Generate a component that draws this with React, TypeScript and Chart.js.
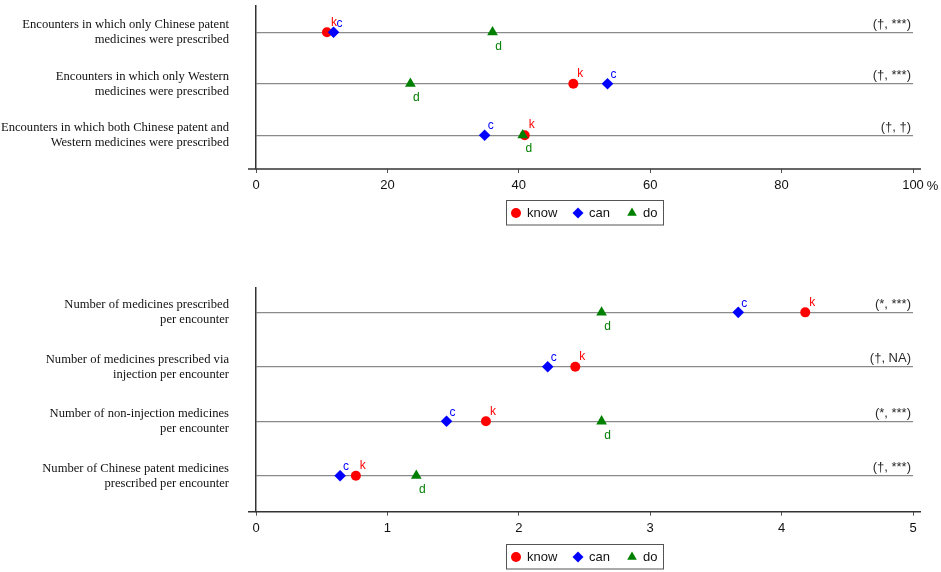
import { useEffect, useRef } from "react";
import { Chart, registerables } from "chart.js";

Chart.register(...registerables);

// top panel: share of encounters (%)
const topCategories = [
  ["Encounters in which only Chinese patent", "medicines were prescribed"],
  ["Encounters in which only Western", "medicines were prescribed"],
  ["Encounters in which both Chinese patent and", "Western medicines were prescribed"],
];
const topKnow = [10.8, 48.3, 40.9];
const topCan = [11.8, 53.5, 34.8];
const topDo = [36.0, 23.5, 40.6];
const topNotes = ["(†, ***)", "(†, ***)", "(†, †)"];
const topTicks = [0, 20, 40, 60, 80, 100];

// bottom panel: number of medicines per encounter
const bottomCategories = [
  ["Number of medicines prescribed", "per encounter"],
  ["Number of medicines prescribed via", "injection per encounter"],
  ["Number of non-injection medicines", "per encounter"],
  ["Number of Chinese patent medicines", "prescribed per encounter"],
];
const bottomKnow = [4.18, 2.43, 1.75, 0.76];
const bottomCan = [3.67, 2.22, 1.45, 0.64];
const bottomDo = [2.63, null, 2.63, 1.22];
const bottomNotes = ["(*, ***)", "(†, NA)", "(*, ***)", "(†, ***)"];
const bottomTicks = [0, 1, 2, 3, 4, 5];

const seriesNames = ["know", "can", "do"];
const seriesTags = ["k", "c", "d"];

const COLORS = ["#ff0000", "#0000ff", "#008000"];
const STYLES = ["circle", "rectRot", "triangle"];
const RADII = [5, 5.8, 6.2];
const TAG_OFFSETS = [
  [7, -10],
  [6, -9],
  [6, 14],
];
const SANS = "'Liberation Sans', Arial, sans-serif";
const SERIF = "'Liberation Serif', 'Times New Roman', serif";

function drawMarker(ctx, style, x, y, r, color) {
  ctx.save();
  ctx.fillStyle = color;
  ctx.beginPath();
  if (style === "circle") {
    ctx.arc(x, y, r, 0, Math.PI * 2);
  } else if (style === "rectRot") {
    ctx.moveTo(x, y - r);
    ctx.lineTo(x + r, y);
    ctx.lineTo(x, y + r);
    ctx.lineTo(x - r, y);
  } else {
    ctx.moveTo(x, y - r);
    ctx.lineTo(x + r * 0.87, y + r * 0.5);
    ctx.lineTo(x - r * 0.87, y + r * 0.5);
  }
  ctx.closePath();
  ctx.fill();
  ctx.restore();
}

const decor = {
  id: "decor",
  afterDatasetsDraw(chart) {
    const ctx = chart.ctx;
    ctx.save();
    ctx.font = `12px ${SANS}`;
    ctx.textAlign = "center";
    ctx.textBaseline = "middle";
    chart.data.datasets.forEach((ds, i) => {
      const meta = chart.getDatasetMeta(i);
      ctx.fillStyle = ds.backgroundColor;
      meta.data.forEach((pt, j) => {
        if (ds.data[j].x == null) return;
        const [dx, dy] = TAG_OFFSETS[ds.seriesIndex];
        ctx.fillText(ds.tag, pt.x + dx, pt.y + dy);
      });
    });
    ctx.restore();
  },
  afterDraw(chart, _args, opts) {
    const ctx = chart.ctx;
    const { left, right, bottom } = chart.chartArea;
    const x = chart.scales.x;
    const y = chart.scales.y;
    ctx.save();

    // x axis line, a little longer than the plot area
    ctx.strokeStyle = "#333";
    ctx.lineWidth = 1.5;
    ctx.beginPath();
    ctx.moveTo(left - 8, bottom);
    ctx.lineTo(right + 8, bottom);
    ctx.stroke();

    // significance notes on the right
    ctx.font = `13px ${SANS}`;
    ctx.fillStyle = "#2a2a2a";
    ctx.textAlign = "right";
    ctx.textBaseline = "middle";
    opts.notes.forEach((n, i) => {
      ctx.fillText(n, right - 2, y.getPixelForValue(i + 1) - 8);
    });

    if (opts.percent) {
      const last = opts.ticks[opts.ticks.length - 1];
      const w = ctx.measureText(String(last)).width;
      ctx.textAlign = "left";
      ctx.fillStyle = "#111";
      ctx.fillText("%", x.getPixelForValue(last) + w / 2 + 3, bottom + 17);
    }

    // legend box
    const bx = (left + right) / 2 - 78.5;
    const by = bottom + opts.legendTop;
    ctx.strokeStyle = "#555";
    ctx.lineWidth = 1;
    ctx.strokeRect(bx + 0.5, by + 0.5, 157, 24.5);
    const markerX = [10, 72, 126];
    const textX = [21, 83, 137];
    const cy = by + 13;
    ctx.font = `13px ${SANS}`;
    ctx.textAlign = "left";
    seriesNames.forEach((name, i) => {
      drawMarker(ctx, STYLES[i], bx + markerX[i], cy, i === 0 ? 5 : 5.5, COLORS[i]);
      ctx.fillStyle = "#111";
      ctx.fillText(name, bx + textX[i], cy);
    });
    ctx.restore();
  },
};

function makeDatasets(series) {
  return series.map((values, i) => ({
    label: seriesNames[i],
    tag: seriesTags[i],
    seriesIndex: i,
    data: values.map((v, j) => ({ x: v, y: j + 1 })),
    backgroundColor: COLORS[i],
    borderColor: COLORS[i],
    borderWidth: 0,
    pointStyle: STYLES[i],
    pointRadius: RADII[i],
    showLine: false,
    order: 3 - i,
  }));
}

function Panel({ top, height, padTop, axisHeight, legendTop, categories, series, notes, ticks, percent }) {
  const canvasRef = useRef(null);
  const chartRef = useRef(null);

  useEffect(() => {
    if (!canvasRef.current) return;
    if (chartRef.current) chartRef.current.destroy();

    chartRef.current = new Chart(canvasRef.current, {
      type: "scatter",
      data: { datasets: makeDatasets(series) },
      plugins: [decor],
      options: {
        responsive: false,
        animation: false,
        layout: { padding: { top: padTop, right: 28, left: 0, bottom: 0 } },
        plugins: {
          legend: { display: false },
          tooltip: { enabled: false },
          decor: { notes, percent, ticks, legendTop },
        },
        scales: {
          x: {
            type: "linear",
            min: ticks[0],
            max: ticks[ticks.length - 1],
            afterBuildTicks: (s) => {
              s.ticks = ticks.map((v) => ({ value: v }));
            },
            afterFit: (s) => {
              s.height = axisHeight;
              s.paddingLeft = 0;
              s.paddingRight = 0;
            },
            grid: {
              drawOnChartArea: false,
              drawTicks: true,
              tickLength: 4,
              color: "#555",
            },
            border: { display: false },
            ticks: {
              padding: 5,
              color: "#111",
              font: { family: SANS, size: 13 },
              maxRotation: 0,
              callback: (v) => String(v),
            },
          },
          y: {
            type: "linear",
            reverse: true,
            min: percent ? 0.494 : 0.54,
            max: percent ? 3.657 : 4.66,
            afterBuildTicks: (s) => {
              s.ticks = categories.map((_, i) => ({ value: i + 1 }));
            },
            afterFit: (s) => {
              s.width = 256;
              s.paddingTop = 0;
              s.paddingBottom = 0;
            },
            grid: { color: "#8a8a8a", lineWidth: 1.2, drawTicks: false },
            border: { display: true, color: "#333", width: 1.5 },
            ticks: {
              autoSkip: false,
              padding: 27,
              color: "#111",
              font: { family: SERIF, size: 12.6, lineHeight: 1.19 },
              callback: (v) => categories[v - 1],
            },
          },
        },
      },
    });

    return () => chartRef.current?.destroy();
  }, []);

  return (
    <canvas
      ref={canvasRef}
      width={941}
      height={height}
      style={{ position: "absolute", left: 0, top, width: 941, height }}
    />
  );
}

export default function App() {
  return (
    <div
      style={{
        position: "fixed",
        left: 0,
        top: 0,
        width: 941,
        height: 572,
        background: "#fff",
        overflow: "hidden",
      }}
    >
      <Panel
        top={0}
        height={235}
        padTop={2}
        axisHeight={66}
        legendTop={31}
        categories={topCategories}
        series={[topKnow, topCan, topDo]}
        notes={topNotes}
        ticks={topTicks}
        percent={true}
      />
      <Panel
        top={250}
        height={322}
        padTop={37.3}
        axisHeight={60.3}
        legendTop={32.3}
        categories={bottomCategories}
        series={[bottomKnow, bottomCan, bottomDo]}
        notes={bottomNotes}
        ticks={bottomTicks}
        percent={false}
      />
    </div>
  );
}
